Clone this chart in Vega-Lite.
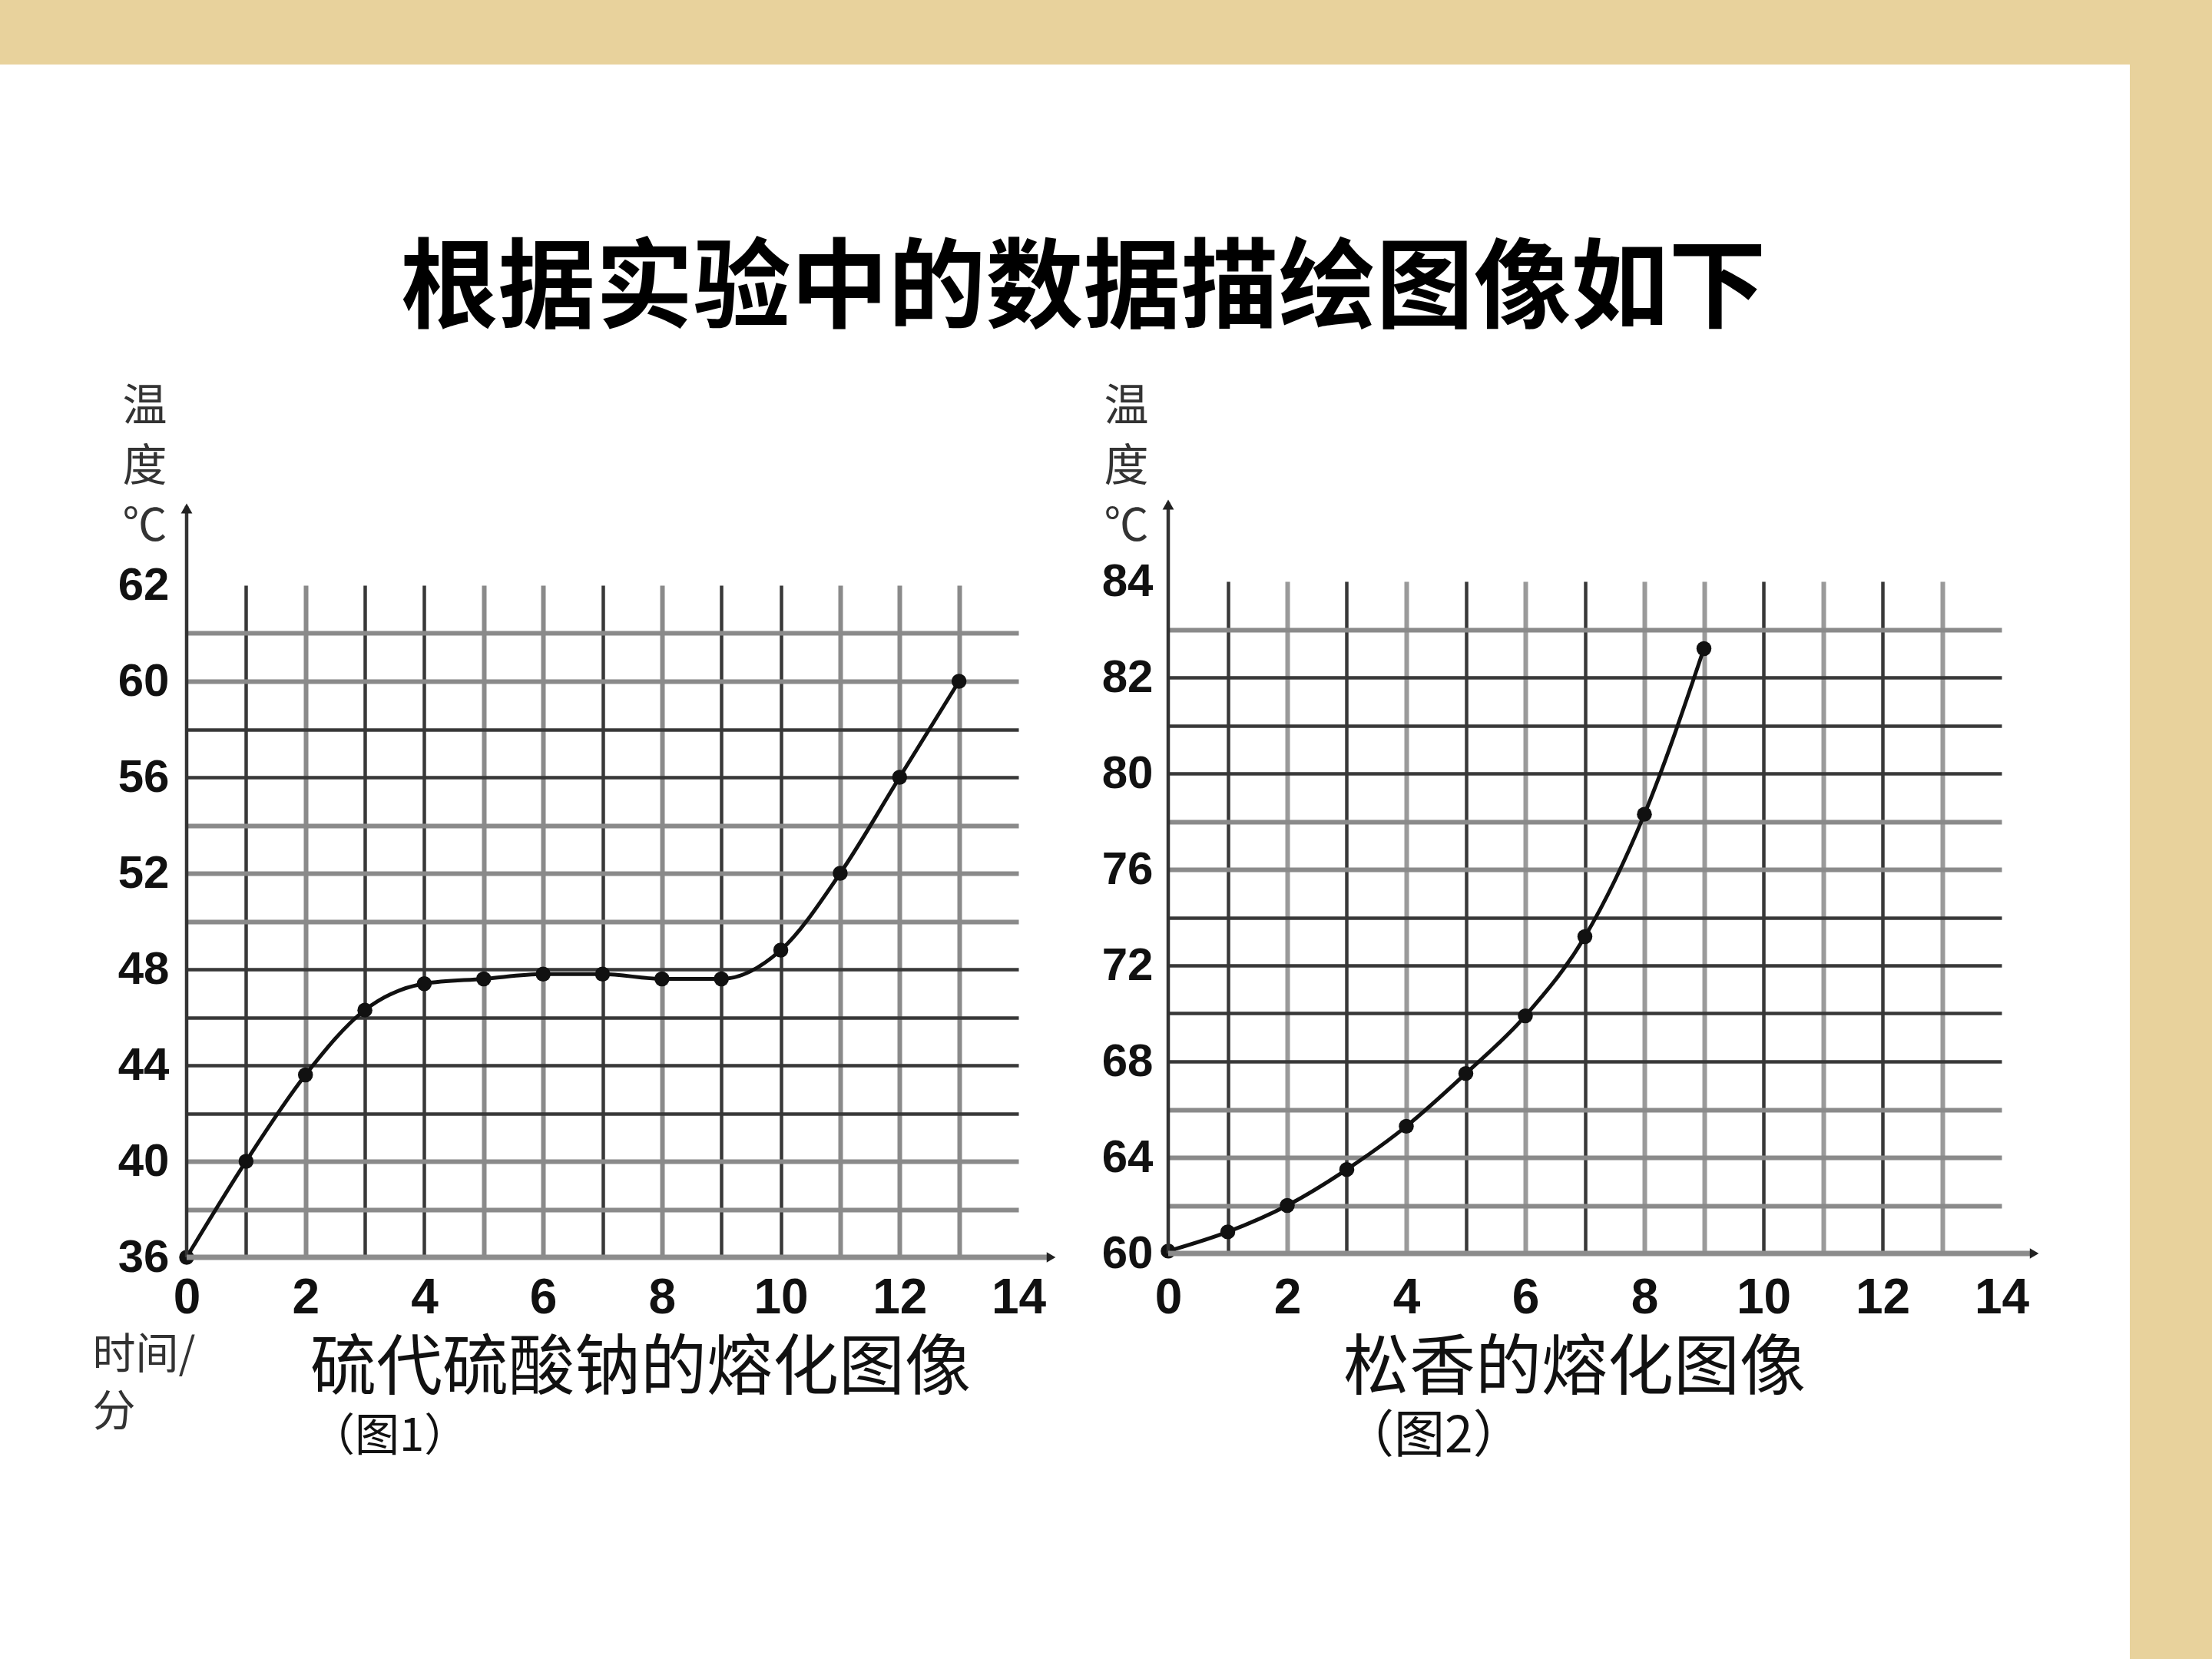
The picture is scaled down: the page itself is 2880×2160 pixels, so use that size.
{
  "$schema": "https://vega.github.io/schema/vega-lite/v6.json",
  "background": "#e8d29c",
  "padding": {"left": 0, "top": 84, "right": 107, "bottom": 0},
  "spacing": 0,
  "title": {
    "text": "根据实验中的数据描绘图像如下",
    "orient": "top",
    "anchor": "middle",
    "offset": -360,
    "dx": 24,
    "fontSize": 127,
    "font": "Noto Sans CJK SC",
    "fontWeight": "bold",
    "color": "#000000"
  },
  "datasets": {
    "sodium": [
      {"t": 0, "temp": 36.0},
      {"t": 1, "temp": 40.0},
      {"t": 2, "temp": 43.6},
      {"t": 3, "temp": 46.3},
      {"t": 4, "temp": 47.4},
      {"t": 5, "temp": 47.6},
      {"t": 6, "temp": 47.8},
      {"t": 7, "temp": 47.8},
      {"t": 8, "temp": 47.6},
      {"t": 9, "temp": 47.6},
      {"t": 10, "temp": 48.8},
      {"t": 11, "temp": 52.0},
      {"t": 12, "temp": 56.0},
      {"t": 13, "temp": 60.0}
    ],
    "rosin": [
      {"t": 0, "temp": 60.1},
      {"t": 1, "temp": 60.9},
      {"t": 2, "temp": 62.0},
      {"t": 3, "temp": 63.5},
      {"t": 4, "temp": 65.3},
      {"t": 5, "temp": 67.5},
      {"t": 6, "temp": 69.9},
      {"t": 7, "temp": 73.2},
      {"t": 8, "temp": 78.3},
      {"t": 9, "temp": 85.2}
    ],
    "one": [{}]
  },
  "hconcat": [
    {
      "width": 1386,
      "height": 2076,
      "title": {
        "text": "硫代硫酸钠的熔化图像",
        "subtitle": "（图1）",
        "orient": "bottom",
        "anchor": "start",
        "dx": 404,
        "offset": -419,
        "fontSize": 86,
        "subtitleFontSize": 58,
        "subtitlePadding": 16,
        "font": "Noto Sans CJK SC",
        "subtitleFont": "Noto Sans CJK SC",
        "fontWeight": "normal",
        "color": "#111111",
        "subtitleColor": "#111111"
      },
      "resolve": {"axis": {"x": "independent", "y": "independent"}},
      "layer": [
        {
          "data": {"name": "sodium"},
          "mark": {"type": "line", "interpolate": "monotone", "color": "#111111", "strokeWidth": 5},
          "encoding": {
            "x": {
              "field": "t", "type": "quantitative",
              "scale": {"domain": [0, 14], "range": [243, 1326], "nice": false, "zero": false},
              "axis": {
                "orient": "top", "offset": -1553,
                "values": [0,1,2,3,4,5,6,7,8,9,10,11,12,13,14],
                "grid": true, "domain": false, "ticks": false, "tickSize": 0,
                "gridColor": {"condition": {"test": "indexof([2,5,6,8,11,12,13], datum.value) >= 0", "value": "#8a8a8a"}, "value": "#383838"},
                "gridWidth": {"condition": {"test": "indexof([2,5,6,8,11,12,13], datum.value) >= 0", "value": 6}, "value": 4.5},
                "gridOpacity": {"condition": {"test": "datum.value == 0 || datum.value == 14", "value": 0}, "value": 1},
                "labelExpr": "datum.value % 2 == 0 ? datum.label : ''",
                "labelFont": "Liberation Sans", "labelFontWeight": "bold", "labelFontSize": 64, "labelColor": "#111111",
                "labelPadding": -53, "labelBaseline": "middle", "labelAlign": "center",
                "labelFlush": false, "labelOverlap": false,
                "title": ["时间/", "分"], "titleX": 120, "titleY": 100, "titleAlign": "left", "titleBaseline": "top", "titleAngle": 0,
                "titleFont": "Noto Sans CJK SC", "titleFontSize": 56, "titleFontWeight": "normal", "titleColor": "#333333", "titleLineHeight": 74
              }
            },
            "y": {
              "field": "temp", "type": "quantitative",
              "scale": {"domain": [36, 64], "range": [1553, 678], "nice": false, "zero": false},
              "axis": {
                "orient": "left", "offset": -243,
                "values": [36,38,40,42,44,46,48,50,52,54,56,58,60,62,64],
                "grid": true, "domain": false, "ticks": false, "tickSize": 0,
                "gridColor": {"condition": {"test": "indexof([62,60,54,52,50,40,38], datum.value) >= 0", "value": "#8a8a8a"}, "value": "#383838"},
                "gridWidth": {"condition": {"test": "indexof([62,60,54,52,50,40,38], datum.value) >= 0", "value": 6}, "value": 4.5},
                "gridOpacity": {"condition": {"test": "datum.value == 36 || datum.value == 64", "value": 0}, "value": 1},
                "labelExpr": "datum.value % 4 == 0 ? (datum.value == 64 ? '62' : datum.label) : ''",
                "labelFont": "Liberation Sans", "labelFontWeight": "bold", "labelFontSize": 60, "labelColor": "#111111",
                "labelPadding": 23, "labelBaseline": "middle", "labelAlign": "right",
                "labelFlush": false, "labelOverlap": false,
                "title": ["温", "度", "℃"], "titleX": -55, "titleY": 417, "titleAlign": "center", "titleBaseline": "top", "titleAngle": 0,
                "titleFont": "Noto Sans CJK SC", "titleFontSize": 58, "titleFontWeight": "normal", "titleColor": "#333333", "titleLineHeight": 78
              }
            }
          }
        },
        {
          "data": {"name": "sodium"},
          "mark": {"type": "point", "filled": true, "color": "#111111", "opacity": 1, "size": 380},
          "encoding": {
            "x": {"field": "t", "type": "quantitative", "axis": null},
            "y": {"field": "temp", "type": "quantitative", "axis": null}
          }
        },
        {
          "data": {"name": "one"},
          "mark": {"type": "rule", "color": "#333333", "strokeWidth": 4.5},
          "encoding": {"x": {"datum": 0, "axis": null}, "y": {"datum": 36, "axis": null}, "y2": {"datum": 67.3}}
        },
        {
          "data": {"name": "one"},
          "mark": {"type": "point", "shape": "triangle-up", "filled": true, "color": "#222222", "opacity": 1, "size": 220},
          "encoding": {"x": {"datum": 0, "axis": null}, "y": {"datum": 67.2, "axis": null}}
        },
        {
          "data": {"name": "one"},
          "mark": {"type": "rule", "color": "#8c8c8c", "strokeWidth": 7},
          "encoding": {"y": {"datum": 36, "axis": null}, "x": {"datum": 0, "axis": null}, "x2": {"datum": 14.5}}
        },
        {
          "data": {"name": "one"},
          "mark": {"type": "point", "shape": "triangle-right", "filled": true, "color": "#222222", "opacity": 1, "size": 180},
          "encoding": {"x": {"datum": 14.55, "axis": null}, "y": {"datum": 36, "axis": null}}
        }
      ]
    },
    {
      "width": 1387,
      "height": 2076,
      "title": {
        "text": "松香的熔化图像",
        "subtitle": "（图2）",
        "orient": "bottom",
        "anchor": "start",
        "dx": 363,
        "offset": -419,
        "fontSize": 86,
        "subtitleFontSize": 66,
        "subtitlePadding": 12,
        "font": "Noto Sans CJK SC",
        "subtitleFont": "Noto Sans CJK SC",
        "fontWeight": "normal",
        "color": "#111111",
        "subtitleColor": "#111111"
      },
      "resolve": {"axis": {"x": "independent", "y": "independent"}},
      "layer": [
        {
          "data": {"name": "rosin"},
          "mark": {"type": "line", "interpolate": "monotone", "color": "#111111", "strokeWidth": 5},
          "encoding": {
            "x": {
              "field": "t", "type": "quantitative",
              "scale": {"domain": [0, 14], "range": [135, 1220], "nice": false, "zero": false},
              "axis": {
                "orient": "top", "offset": -1548,
                "values": [0,1,2,3,4,5,6,7,8,9,10,11,12,13,14],
                "grid": true, "domain": false, "ticks": false, "tickSize": 0,
                "gridColor": {"condition": {"test": "indexof([2,4,6,8,9,11,13], datum.value) >= 0", "value": "#9a9a9a"}, "value": "#383838"},
                "gridWidth": {"condition": {"test": "indexof([2,4,6,8,9,11,13], datum.value) >= 0", "value": 6}, "value": 4.5},
                "gridOpacity": {"condition": {"test": "datum.value == 0 || datum.value == 14", "value": 0}, "value": 1},
                "labelExpr": "datum.value % 2 == 0 ? datum.label : ''",
                "labelFont": "Liberation Sans", "labelFontWeight": "bold", "labelFontSize": 64, "labelColor": "#111111",
                "labelPadding": -58, "labelBaseline": "middle", "labelAlign": "center",
                "labelFlush": false, "labelOverlap": false,
                "title": null
              }
            },
            "y": {
              "field": "temp", "type": "quantitative",
              "scale": {"domain": [60, 88], "range": [1548, 673], "nice": false, "zero": false},
              "axis": {
                "orient": "left", "offset": -135,
                "values": [60,62,64,66,68,70,72,74,76,78,80,82,84,86,88],
                "grid": true, "domain": false, "ticks": false, "tickSize": 0,
                "gridColor": {"condition": {"test": "indexof([86,78,76,66,64,62], datum.value) >= 0", "value": "#8a8a8a"}, "value": "#383838"},
                "gridWidth": {"condition": {"test": "indexof([86,78,76,66,64,62], datum.value) >= 0", "value": 6}, "value": 4.5},
                "gridOpacity": {"condition": {"test": "datum.value == 60 || datum.value == 88", "value": 0}, "value": 1},
                "labelExpr": "datum.value % 4 == 0 ? (datum.value == 84 ? '82' : (datum.value == 88 ? '84' : datum.label)) : ''",
                "labelFont": "Liberation Sans", "labelFontWeight": "bold", "labelFontSize": 60, "labelColor": "#111111",
                "labelPadding": 20, "labelBaseline": "middle", "labelAlign": "right",
                "labelFlush": false, "labelOverlap": false,
                "title": ["温", "度", "℃"], "titleX": -55, "titleY": 417, "titleAlign": "center", "titleBaseline": "top", "titleAngle": 0,
                "titleFont": "Noto Sans CJK SC", "titleFontSize": 58, "titleFontWeight": "normal", "titleColor": "#333333", "titleLineHeight": 78
              }
            }
          }
        },
        {
          "data": {"name": "rosin"},
          "mark": {"type": "point", "filled": true, "color": "#111111", "opacity": 1, "size": 380},
          "encoding": {
            "x": {"field": "t", "type": "quantitative", "axis": null},
            "y": {"field": "temp", "type": "quantitative", "axis": null}
          }
        },
        {
          "data": {"name": "one"},
          "mark": {"type": "rule", "color": "#333333", "strokeWidth": 4.5},
          "encoding": {"x": {"datum": 0, "axis": null}, "y": {"datum": 60, "axis": null}, "y2": {"datum": 91.3}}
        },
        {
          "data": {"name": "one"},
          "mark": {"type": "point", "shape": "triangle-up", "filled": true, "color": "#222222", "opacity": 1, "size": 220},
          "encoding": {"x": {"datum": 0, "axis": null}, "y": {"datum": 91.2, "axis": null}}
        },
        {
          "data": {"name": "one"},
          "mark": {"type": "rule", "color": "#8c8c8c", "strokeWidth": 7},
          "encoding": {"y": {"datum": 60, "axis": null}, "x": {"datum": 0, "axis": null}, "x2": {"datum": 14.5}}
        },
        {
          "data": {"name": "one"},
          "mark": {"type": "point", "shape": "triangle-right", "filled": true, "color": "#222222", "opacity": 1, "size": 180},
          "encoding": {"x": {"datum": 14.55, "axis": null}, "y": {"datum": 60, "axis": null}}
        }
      ]
    }
  ],
  "config": {
    "view": {"fill": "white", "stroke": null},
    "title": {"subtitleFontWeight": "normal"}
  }
}
